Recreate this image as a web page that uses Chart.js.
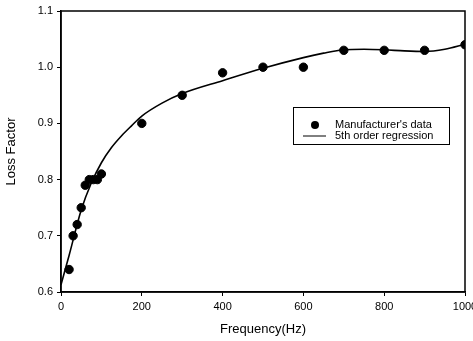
<!DOCTYPE html>
<html>
<head>
<meta charset="utf-8">
<script src="https://cdn.jsdelivr.net/npm/chart.js@4"></script>
<style>
  html, body { margin: 0; padding: 0; background: #fff; }
  #wrap { width: 473px; height: 341px; }
</style>
</head>
<body>
<div id="wrap"><canvas id="lossChart" width="473" height="341"></canvas></div>
<script>
// ==========================
// DADOS
// ==========================
const freqData = [20, 30, 40, 50, 60, 70, 80, 90, 100, 200, 300, 400, 500, 600, 700, 800, 900, 1000];
const lossData = [0.64, 0.70, 0.72, 0.75, 0.79, 0.80, 0.80, 0.80, 0.81, 0.90, 0.95, 0.99, 1.00, 1.00, 1.03, 1.03, 1.03, 1.04];

// curva de regressão
const freqFit = [0, 20, 50, 75, 100, 125, 150, 175, 200, 250, 300, 400, 500, 600, 650, 700, 750, 800, 850, 900, 950, 1000];
const lossFit = [0.613, 0.665, 0.746, 0.794, 0.830, 0.857, 0.878, 0.896, 0.913, 0.936, 0.953, 0.976, 0.998, 1.017, 1.025, 1.031, 1.032, 1.031, 1.029, 1.028, 1.032, 1.041];

const xTicks = [0, 200, 400, 600, 800, 1000];
const yTicks = [0.6, 0.7, 0.8, 0.9, 1.0, 1.1];

const labelData = "Manufacturer's data";
const labelFit = "5th order regression";

const FONT = "'Liberation Sans', Arial, sans-serif";

// ==========================
// PLUGINS
// ==========================
const moldura = {
  id: 'moldura',
  afterDraw(chart) {
    const { ctx, chartArea: a } = chart;
    ctx.save();
    ctx.strokeStyle = '#000';
    ctx.lineWidth = 1.5;
    ctx.strokeRect(a.left, a.top, a.right - a.left, a.bottom - a.top);
    ctx.restore();
  }
};

const legendaInterna = {
  id: 'legendaInterna',
  afterDraw(chart) {
    const { ctx, chartArea: a } = chart;
    const ds = chart.data.datasets;
    const x = a.left + 232, y = a.top + 96, w = 156, h = 37;
    ctx.save();
    ctx.fillStyle = '#fff';
    ctx.fillRect(x, y, w, h);
    ctx.strokeStyle = '#000';
    ctx.lineWidth = 1;
    ctx.strokeRect(x + 0.5, y + 0.5, w, h);

    ctx.font = '11px ' + FONT;
    ctx.textBaseline = 'middle';
    ctx.fillStyle = '#000';

    // linha 1: pontos
    ctx.beginPath();
    ctx.arc(x + 22, y + 18, 4, 0, Math.PI * 2);
    ctx.fill();
    ctx.fillText(ds[0].label, x + 42, y + 18);

    // linha 2: regressão
    ctx.beginPath();
    ctx.moveTo(x + 10, y + 29);
    ctx.lineTo(x + 33, y + 29);
    ctx.lineWidth = 1;
    ctx.stroke();
    ctx.fillText(ds[1].label, x + 42, y + 29);
    ctx.restore();
  }
};

// ==========================
// GRÁFICO
// ==========================
new Chart(document.getElementById('lossChart'), {
  type: 'scatter',
  data: {
    datasets: [
      {
        label: labelData,
        data: freqData.map((f, i) => ({ x: f, y: lossData[i] })),
        pointRadius: 4.2,
        pointBackgroundColor: '#000',
        pointBorderColor: '#000',
        showLine: false,
        order: 1
      },
      {
        label: labelFit,
        data: freqFit.map((f, i) => ({ x: f, y: lossFit[i] })),
        showLine: true,
        pointRadius: 0,
        borderColor: '#000',
        borderWidth: 1.6,
        cubicInterpolationMode: 'monotone',
        order: 2
      }
    ]
  },
  options: {
    responsive: false,
    animation: false,
    layout: { autoPadding: false, padding: { top: 11, right: 8, left: 0, bottom: 0 } },
    plugins: { legend: { display: false }, tooltip: { enabled: false } },
    scales: {
      x: {
        type: 'linear',
        min: 0, max: 1000,
        afterBuildTicks: s => { s.ticks = xTicks.map(v => ({ value: v })); },
        afterFit: s => { s.height = 49; s.paddingLeft = 0; s.paddingRight = 0; },
        grid: { drawOnChartArea: false, drawTicks: true, tickLength: 4, color: '#000' },
        border: { color: '#000', width: 1.5 },
        ticks: { color: '#000', font: { family: FONT, size: 11 }, padding: 4, maxRotation: 0, callback: v => String(v) },
        title: { display: true, text: 'Frequency(Hz)', color: '#000', font: { family: FONT, size: 13 }, padding: { top: 6 } }
      },
      y: {
        type: 'linear',
        min: 0.6, max: 1.1,
        afterBuildTicks: s => { s.ticks = yTicks.map(v => ({ value: v })); },
        afterFit: s => { s.width = 61; },
        grid: { drawOnChartArea: false, drawTicks: true, tickLength: 4, color: '#000' },
        border: { color: '#000', width: 1.5 },
        ticks: { color: '#000', font: { family: FONT, size: 11 }, padding: 4, callback: v => v.toFixed(1) },
        title: { display: true, text: 'Loss Factor', color: '#000', font: { family: FONT, size: 13 }, padding: { top: 4, bottom: 4 } }
      }
    }
  },
  plugins: [moldura, legendaInterna]
});
</script>
</body>
</html>
